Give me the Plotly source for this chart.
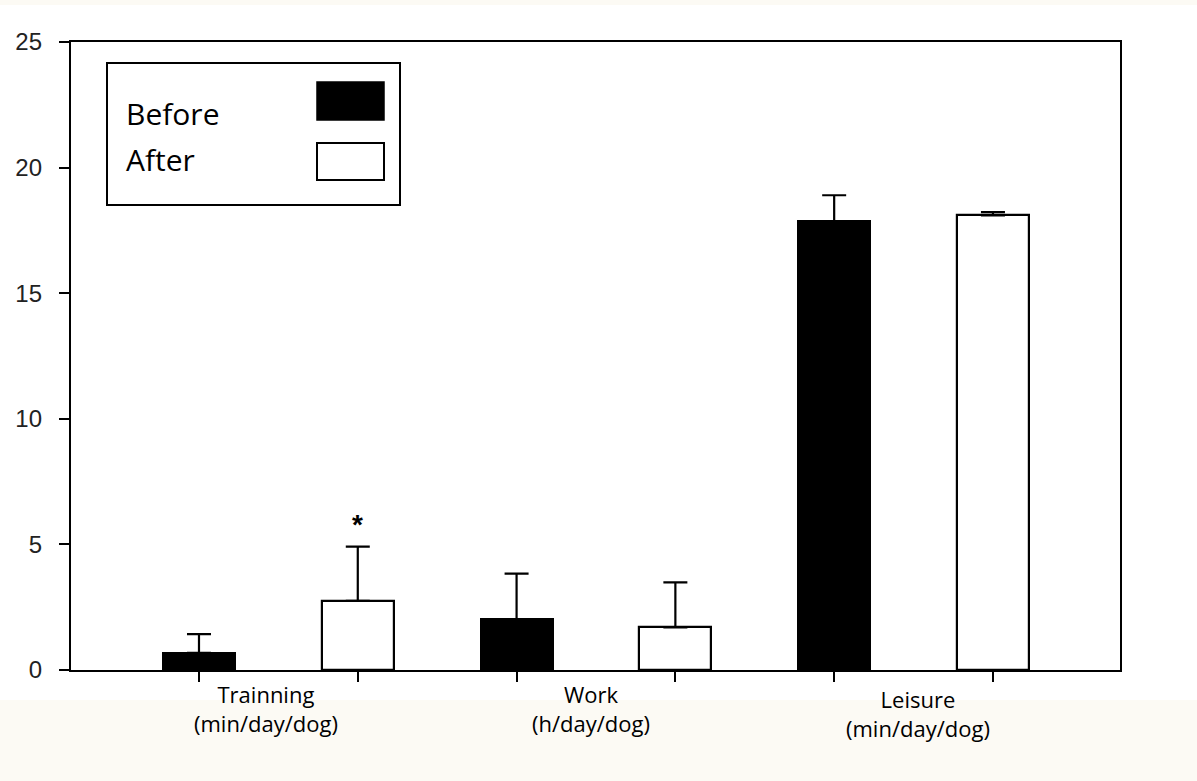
import plotly.graph_objects as go

# ---- data ----
positions_before = [1, 3, 5]
positions_after = [2, 4, 6]
before_mean = [0.68, 2.02, 17.86]
before_sd = [0.75, 1.82, 1.04]
after_mean = [2.75, 1.70, 18.10]
after_sd = [2.16, 1.79, 0.13]
categories = ["Trainning<br>(min/day/dog)", "Work<br>(h/day/dog)", "Leisure<br>(min/day/dog)"]
category_x = [1.42, 3.47, 5.53]
category_y = [-0.062, -0.062, -0.069]
y_ticks = [0, 5, 10, 15, 20, 25]
series_names = ["Before", "After"]

W, H = 1197, 781
L, R, T, B = 71, 77, 42, 111
pw, ph = W - L - R, H - T - B

def px_x(px):
    return (px - L) / pw

def px_y(py):
    return (H - B - py) / ph

fig = go.Figure()
fig.add_trace(go.Bar(
    x=positions_before, y=before_mean, width=0.453, name=series_names[0],
    marker=dict(color="black", line=dict(color="black", width=2)),
    error_y=dict(type="data", symmetric=False, array=before_sd,
                 arrayminus=[0] * len(before_sd), color="black", thickness=2.2, width=12),
    showlegend=False,
))
fig.add_trace(go.Bar(
    x=positions_after, y=after_mean, width=0.453, name=series_names[1],
    marker=dict(color="white", line=dict(color="black", width=2.2)),
    error_y=dict(type="data", symmetric=False, array=after_sd,
                 arrayminus=[0] * len(after_sd), color="black", thickness=2.2, width=12),
    showlegend=False,
))

shapes = [
    dict(type="rect", xref="paper", yref="paper", x0=px_x(0), x1=px_x(W), y0=px_y(700), y1=px_y(H),
         fillcolor="#fcfaf4", line=dict(width=0), layer="below"),
    dict(type="rect", xref="paper", yref="paper", x0=px_x(0), x1=px_x(W), y0=px_y(0), y1=px_y(5),
         fillcolor="#fcfaf4", line=dict(width=0), layer="below"),
    dict(type="rect", xref="paper", yref="paper", x0=px_x(107), x1=px_x(400), y0=px_y(205), y1=px_y(63),
         fillcolor="white", line=dict(color="black", width=2)),
    dict(type="rect", xref="paper", yref="paper", x0=px_x(317), x1=px_x(384), y0=px_y(120), y1=px_y(82),
         fillcolor="black", line=dict(color="black", width=1.5)),
    dict(type="rect", xref="paper", yref="paper", x0=px_x(317), x1=px_x(384), y0=px_y(180), y1=px_y(143),
         fillcolor="white", line=dict(color="black", width=2)),
]

annotations = [
    dict(xref="paper", yref="paper", x=px_x(124), y=px_y(114), text=series_names[0], showarrow=False,
         xanchor="left", yanchor="middle", font=dict(family="Open Sans", size=30, color="black")),
    dict(xref="paper", yref="paper", x=px_x(124), y=px_y(159), text=series_names[1], showarrow=False,
         xanchor="left", yanchor="middle", font=dict(family="Open Sans", size=30, color="black")),
    dict(xref="x", yref="y", x=positions_after[0], y=after_mean[0] + after_sd[0] + 0.9, text="<b>*</b>",
         showarrow=False, yanchor="middle", font=dict(family="Liberation Sans", size=28, color="black")),
]
for cx, cy, txt in zip(category_x, category_y, categories):
    annotations.append(dict(xref="x", yref="paper", x=cx, y=cy, text=txt, showarrow=False,
                            xanchor="center", yanchor="middle",
                            font=dict(family="Open Sans", size=22, color="black")))

fig.update_layout(
    width=W, height=H, autosize=False,
    margin=dict(l=L, r=R, t=T, b=B, pad=0),
    paper_bgcolor="white", plot_bgcolor="white",
    shapes=shapes, annotations=annotations,
    bargap=0, barmode="overlay",
)
fig.update_xaxes(range=[0.194, 6.80], tickvals=positions_before + positions_after,
                 ticktext=[""] * 6, ticks="outside", ticklen=10, tickwidth=2, tickcolor="black",
                 showline=True, linewidth=2.4, linecolor="black", mirror=True,
                 showgrid=False, zeroline=False, fixedrange=True)
fig.update_yaxes(range=[0, 25], tickvals=y_ticks, ticks="outside", ticklen=10, tickwidth=2,
                 tickcolor="black", showline=True, linewidth=2.4, linecolor="black", mirror=True,
                 showgrid=False, zeroline=False, ticklabelstandoff=12, fixedrange=True,
                 tickfont=dict(family="Liberation Sans", size=24, color="#222"))

fig.write_html("out.html", config={"displayModeBar": False},
               post_script="document.body.style.margin='0';document.body.style.overflow='hidden';")
